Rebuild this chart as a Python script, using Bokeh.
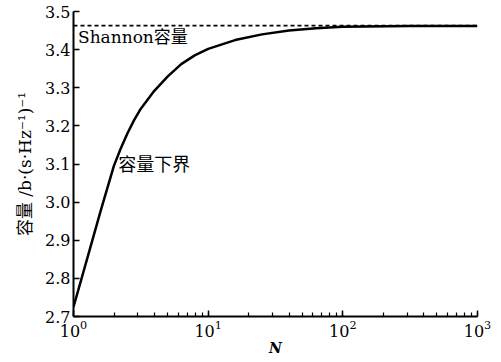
from bokeh.plotting import figure
from bokeh.models import Label, FixedTicker, PrintfTickFormatter, Span
from bokeh.embed import file_html
from bokeh.resources import INLINE

# data
N = [1, 1.259, 1.585, 1.995, 2.239, 2.512, 2.818, 3.162, 3.981, 5.012, 6.310, 7.943, 10,
     15.85, 25.12, 39.81, 63.10, 100, 316.2, 1000]
C = [2.725, 2.85, 2.975, 3.095, 3.14, 3.18, 3.215, 3.245, 3.292, 3.330, 3.362, 3.385, 3.402,
     3.425, 3.440, 3.450, 3.456, 3.460, 3.462, 3.462]
shannon = 3.463
y_ticks = [2.7, 2.8, 2.9, 3.0, 3.1, 3.2, 3.3, 3.4, 3.5]

SERIF = "'DejaVu Serif', 'Noto Sans CJK SC'"

p = figure(output_backend="svg", toolbar_location=None,
           x_axis_type="log", x_range=(1, 1000), y_range=(2.7, 3.5),
           frame_width=404, frame_height=305,
           min_border_left=73, min_border_top=11, min_border_right=16, min_border_bottom=4)
p.outline_line_color = None
p.grid.visible = False
p.background_fill_color = "white"

p.line(N, C, line_color="black", line_width=2.5)
p.add_layout(Span(location=shannon, dimension="width", line_color="black",
                  line_width=1.8, line_dash="4 3"))

for ax in (p.xaxis[0], p.yaxis[0]):
    ax.axis_line_color = "black"
    ax.axis_line_width = 2
    ax.major_tick_in = 6
    ax.major_tick_out = 0
    ax.major_tick_line_width = 1.5
    ax.major_tick_line_color = "black"
    ax.major_label_text_font = SERIF
    ax.major_label_text_font_size = "16px"
    ax.major_label_text_color = "black"
    ax.axis_label_text_color = "black"

p.xaxis.minor_tick_in = 4
p.xaxis.minor_tick_out = 0
p.xaxis.minor_tick_line_color = "black"
p.xaxis.minor_tick_line_width = 1.2
p.xaxis.major_label_standoff = 3
p.xaxis.axis_label = "N"
p.xaxis.axis_label_text_font = SERIF
p.xaxis.axis_label_text_font_style = "bold italic"
p.xaxis.axis_label_text_font_size = "14px"
p.xaxis.axis_label_standoff = 0

p.yaxis.ticker = FixedTicker(ticks=y_ticks)
p.yaxis.formatter = PrintfTickFormatter(format="%.1f")
p.yaxis.minor_tick_line_color = None
p.yaxis.major_label_standoff = 3
p.yaxis.axis_label = "容量 /b·(s·Hz⁻¹)⁻¹"
p.yaxis.axis_label_text_font = SERIF
p.yaxis.axis_label_text_font_style = "normal"
p.yaxis.axis_label_text_font_size = "17px"
p.yaxis.axis_label_standoff = 7

p.add_layout(Label(x=1.08, y=3.434, text="Shannon容量", text_font=SERIF,
                   text_font_size="17px", text_color="black", text_baseline="middle"))
p.add_layout(Label(x=2.15, y=3.10, text="容量下界", text_font=SERIF,
                   text_font_size="18px", text_color="black", text_baseline="middle"))

open("out.html", "w").write(file_html(p, INLINE))
